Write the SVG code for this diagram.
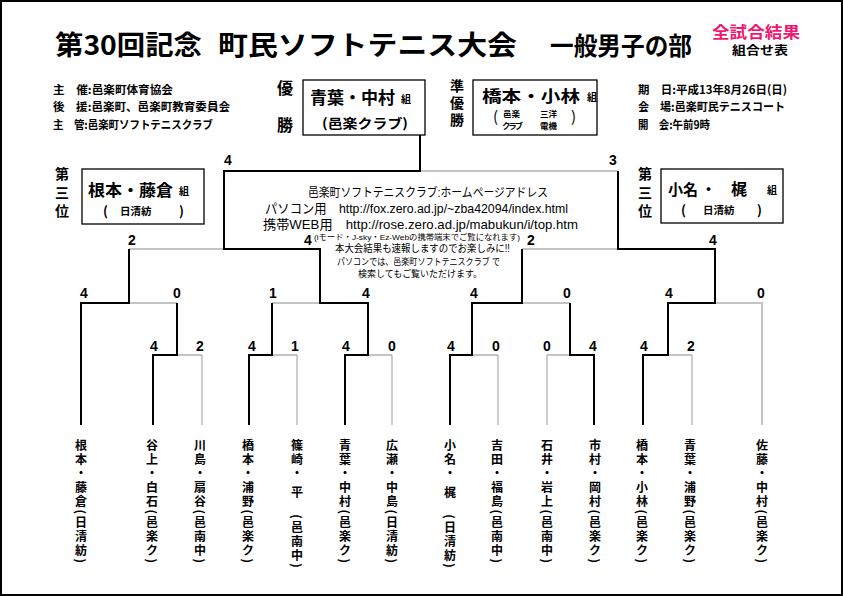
<svg xmlns="http://www.w3.org/2000/svg" width="843" height="596" viewBox="0 0 843 596">
<style>
.jp{font-family:"Noto Sans CJK JP","Noto Sans CJK SC",sans-serif;fill:#000}
.ls{font-family:"Liberation Sans","Noto Sans CJK JP",sans-serif;fill:#000}
.bd{font-weight:bold}
.sc{font-family:"Liberation Sans",Arial,sans-serif;font-weight:bold;font-size:14px;text-anchor:middle;fill:#000}
.nm{font-family:"Noto Sans CJK JP",sans-serif;font-size:12px;writing-mode:vertical-rl;text-orientation:mixed;letter-spacing:2.1px;font-weight:bold}
.vt{font-family:"Noto Sans CJK JP",sans-serif;font-size:14px;writing-mode:vertical-rl;text-orientation:upright;font-weight:bold}
.b{stroke:#000;stroke-width:2;fill:none}
.g{stroke:#c4c4c4;stroke-width:2;fill:none}
.gt{stroke:#9a9a9a;stroke-width:1;fill:none}
.box{fill:#fff;stroke:#000;stroke-width:1.3}
.mid{text-anchor:middle}
</style>
<rect x="0" y="0" width="843" height="596" fill="#fff"/>
<rect x="1" y="1" width="841" height="594" fill="none" stroke="#000" stroke-width="2"/>

<g id="title">
<text class="jp bd" x="55" y="55" font-size="27" textLength="147" lengthAdjust="spacingAndGlyphs">第30回記念</text>
<text class="jp bd" x="218" y="55" font-size="27" textLength="299" lengthAdjust="spacingAndGlyphs">町民ソフトテニス大会</text>
<text class="jp bd" x="550" y="55" font-size="25" textLength="142" lengthAdjust="spacingAndGlyphs">一般男子の部</text>
<text class="ls bd" x="712" y="38" font-size="16" style="fill:#f0186e" textLength="88" lengthAdjust="spacingAndGlyphs">全試合結果</text>
<text class="ls bd" x="732" y="55" font-size="12" textLength="56" lengthAdjust="spacingAndGlyphs">組合せ表</text>
</g>

<g id="info-left">
<text class="jp bd" x="53" y="94" font-size="11.5" textLength="120" lengthAdjust="spacingAndGlyphs">主　催:邑楽町体育協会</text>
<text class="jp bd" x="53" y="111" font-size="11.5" textLength="177" lengthAdjust="spacingAndGlyphs">後　援:邑楽町、邑楽町教育委員会</text>
<text class="jp bd" x="53" y="129" font-size="11.5" textLength="160" lengthAdjust="spacingAndGlyphs">主　管:邑楽町ソフトテニスクラブ</text>
</g>

<g id="info-right">
<text class="jp bd" x="638" y="94" font-size="11.5" textLength="149" lengthAdjust="spacingAndGlyphs">期　日:平成13年8月26日(日)</text>
<text class="jp bd" x="638" y="111" font-size="11.5" textLength="147" lengthAdjust="spacingAndGlyphs">会　場:邑楽町民テニスコート</text>
<text class="jp bd" x="638" y="129" font-size="11.5" textLength="72" lengthAdjust="spacingAndGlyphs">開　会:午前9時</text>
</g>

<g id="connectors">
<path class="g" d="M420,171 H618 M129,249 H224 M522,249 H618 M129,303 H177 M272,303 H320 M522,303 H570 M715,303 H762 V425 M177,355 H202 M272,355 H297 M368,355 H392 M472,355 H498 M547,355 H570 M668,355 H692"/>
<path class="gt" d="M202,355 V425 M297,355 V425 M392,355 V425 M498,355 V425 M547,355 V425 M692,355 V425"/>
<path class="b" d="M420,135 V171 H224 V249 H320 V303 H368 V355 H345 V425"/>
<path class="b" d="M81,425 V303 H129 V249"/>
<path class="b" d="M153,425 V355 H177 V303"/>
<path class="b" d="M249,425 V355 H272 V303"/>
<path class="b" d="M643,425 V355 H668 V303 H715 V249 H618 V171"/>
<path class="b" d="M450,425 V355 H472 V303 H522 V249"/>
<path class="b" d="M594,425 V355 H570 V303"/>
</g>

<g id="scores">
<text class="sc" x="228" y="165">4</text><text class="sc" x="613" y="165">3</text>
<text class="sc" x="132" y="245">2</text><text class="sc" x="308" y="245">4</text><text class="sc" x="531" y="245">2</text><text class="sc" x="713" y="245">4</text>
<text class="sc" x="84" y="298">4</text><text class="sc" x="177" y="298">0</text><text class="sc" x="273" y="298">1</text><text class="sc" x="366" y="298">4</text>
<text class="sc" x="474" y="298">4</text><text class="sc" x="567" y="298">0</text><text class="sc" x="669" y="298">4</text><text class="sc" x="761" y="298">0</text>
<text class="sc" x="154" y="351">4</text><text class="sc" x="200" y="351">2</text><text class="sc" x="252" y="351">4</text><text class="sc" x="295" y="351">1</text><text class="sc" x="346" y="351">4</text><text class="sc" x="392" y="351">0</text>
<text class="sc" x="451" y="351">4</text><text class="sc" x="496" y="351">0</text><text class="sc" x="547" y="351">0</text><text class="sc" x="593" y="351">4</text><text class="sc" x="644" y="351">4</text><text class="sc" x="691" y="351">2</text>
</g>

<g id="champion">
<text class="jp bd mid" x="285" y="94" font-size="16">優</text>
<text class="jp bd mid" x="285" y="131" font-size="16">勝</text>
<rect class="box" x="303" y="80" width="122" height="55"/>
<text class="jp bd" x="310" y="104" font-size="17" textLength="85" lengthAdjust="spacingAndGlyphs">青葉・中村</text>
<text class="jp bd" x="401" y="103" font-size="10">組</text>
<text class="jp bd" x="322" y="128" font-size="13" textLength="86" lengthAdjust="spacingAndGlyphs">(邑楽クラブ)</text>
</g>

<g id="runner-up">
<text class="vt" x="457" y="79" letter-spacing="3">準優勝</text>
<rect class="box" x="473" y="80" width="124" height="55"/>
<text class="jp bd" x="482" y="102" font-size="15.5" textLength="98" lengthAdjust="spacingAndGlyphs">橋本・小林</text>
<text class="jp bd" x="587" y="101" font-size="10">組</text>
<text class="jp bd" font-size="8.5"><tspan x="493" y="122" font-size="15" font-weight="normal">(</tspan><tspan x="503" y="117">邑楽</tspan><tspan x="502" y="129" textLength="21" lengthAdjust="spacing">クラブ</tspan><tspan x="540" y="117">三洋</tspan><tspan x="540" y="129">電機</tspan><tspan x="571" y="122" font-size="15" font-weight="normal">)</tspan></text>
</g>

<g id="third-left">
<text class="vt" x="62" y="167" letter-spacing="4.5">第三位</text>
<rect class="box" x="82" y="169" width="122" height="55"/>
<text class="jp bd" x="88" y="196" font-size="16" textLength="85" lengthAdjust="spacingAndGlyphs">根本・藤倉</text>
<text class="jp bd" x="179" y="195" font-size="10">組</text>
<text class="jp bd" font-size="10.5"><tspan x="103" y="216" font-size="13">(</tspan><tspan x="120" y="215">日清紡</tspan><tspan x="179" y="216" font-size="13">)</tspan></text>
</g>

<g id="third-right">
<text class="vt" x="645" y="167" letter-spacing="4.5">第三位</text>
<rect class="box" x="661" y="169" width="122" height="54"/>
<text class="jp bd" font-size="15" y="195"><tspan x="668">小名</tspan><tspan x="701">・</tspan><tspan x="731" font-size="16">梶</tspan><tspan x="767" y="194" font-size="10">組</tspan></text>
<text class="jp bd" font-size="10.5"><tspan x="681" y="215" font-size="13">(</tspan><tspan x="703" y="214">日清紡</tspan><tspan x="757" y="215" font-size="13">)</tspan></text>
</g>

<g id="club-info">
<text class="ls" x="308" y="197" font-size="12.5" textLength="240" lengthAdjust="spacingAndGlyphs">邑楽町ソフトテニスクラブ:ホームページアドレス</text>
<text class="ls" x="265" y="213" font-size="13" textLength="303" lengthAdjust="spacingAndGlyphs">パソコン用　http://fox.zero.ad.jp/~zba42094/index.html</text>
<text class="ls" x="263" y="229" font-size="13" textLength="315" lengthAdjust="spacingAndGlyphs">携帯WEB用　http://rose.zero.ad.jp/mabukun/i/top.htm</text>
<text class="ls" x="314" y="240" font-size="7.8" textLength="206" lengthAdjust="spacingAndGlyphs">(iモード・J-sky・Ez-Webの携帯端末でご覧になれます)</text>
<text class="ls" x="335" y="252" font-size="10" textLength="175" lengthAdjust="spacingAndGlyphs">本大会結果も速報しますのでお楽しみに!!</text>
<text class="ls" x="337" y="265" font-size="9.5" textLength="163" lengthAdjust="spacingAndGlyphs">パソコンでは、邑楽町ソフトテニスクラブ で</text>
<text class="ls" x="358" y="277" font-size="9.5" textLength="124" lengthAdjust="spacingAndGlyphs">検索してもご覧いただけます。</text>
</g>

<g id="players">
<g id="p1"><text class="nm" x="81" y="439">根本・藤倉(日清紡)</text></g>
<g id="p2"><text class="nm" x="152" y="439">谷上・白石(邑楽ク)</text></g>
<g id="p3"><text class="nm" x="200" y="439">川島・扇谷(邑南中)</text></g>
<g id="p4"><text class="nm" x="248" y="439">橋本・浦野(邑楽ク)</text></g>
<g id="p5"><text class="nm" x="297" y="439">篠崎・ 平　(邑南中)</text></g>
<g id="p6"><text class="nm" x="345" y="439">青葉・中村(邑楽ク)</text></g>
<g id="p7"><text class="nm" x="392" y="439">広瀬・中島(日清紡)</text></g>
<g id="p8"><text class="nm" x="450" y="439">小名・ 梶　(日清紡)</text></g>
<g id="p9"><text class="nm" x="497" y="439">吉田・福島(邑南中)</text></g>
<g id="p10"><text class="nm" x="547" y="439">石井・岩上(邑南中)</text></g>
<g id="p11"><text class="nm" x="595" y="439">市村・岡村(邑楽ク)</text></g>
<g id="p12"><text class="nm" x="642" y="439">橋本・小林(邑楽ク)</text></g>
<g id="p13"><text class="nm" x="690" y="439">青葉・浦野(邑楽ク)</text></g>
<g id="p14"><text class="nm" x="762" y="439">佐藤・中村(邑楽ク)</text></g>
</g>
</svg>
